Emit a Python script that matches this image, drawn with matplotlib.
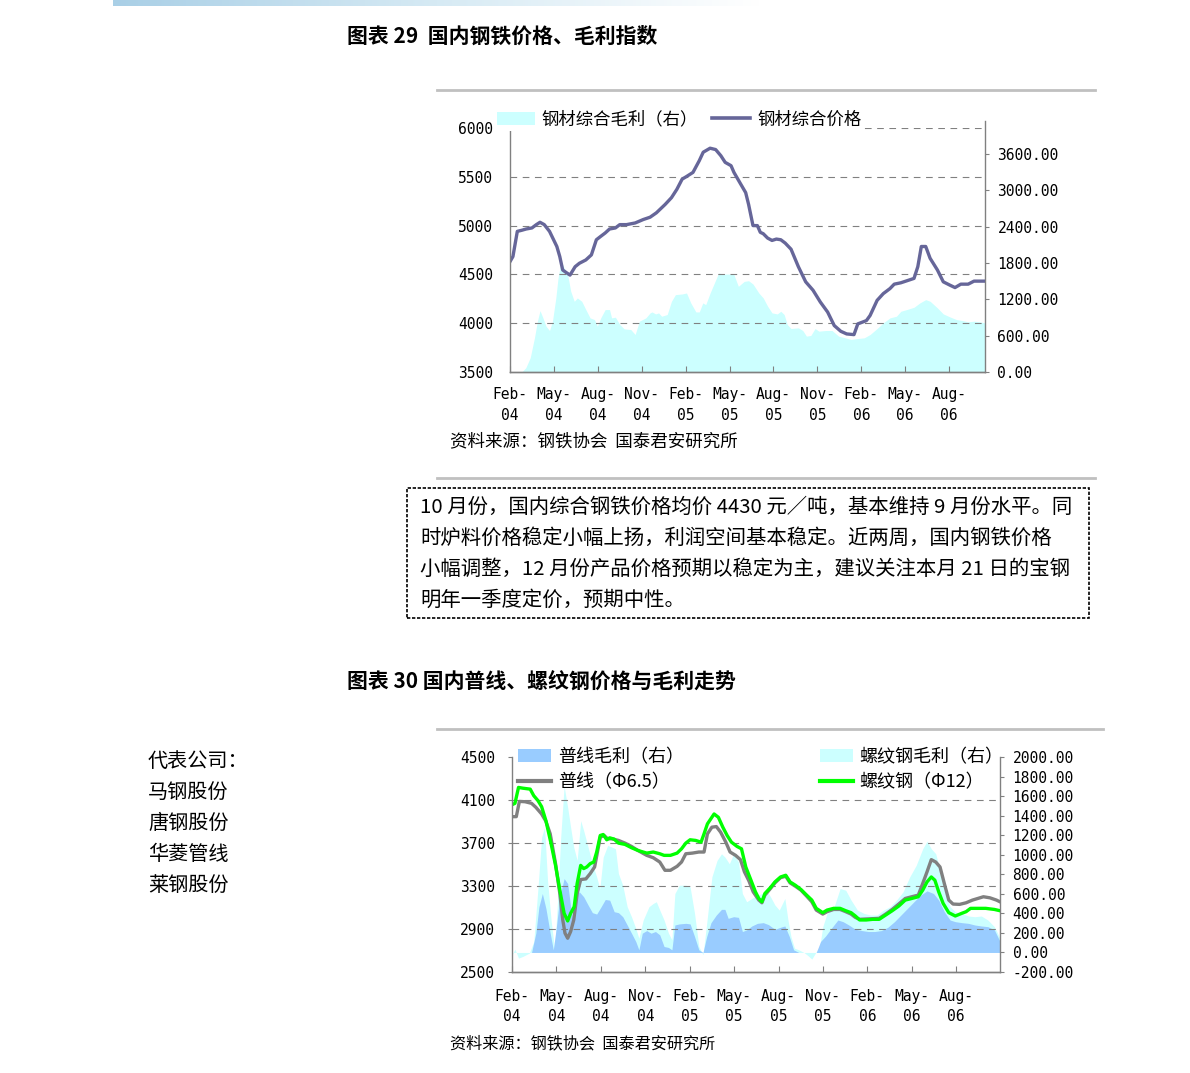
import matplotlib
matplotlib.use("Agg")
import matplotlib.pyplot as plt
from matplotlib.patches import Patch, Rectangle
from matplotlib.lines import Line2D
from matplotlib.ticker import FormatStrFormatter
import numpy as np

plt.rcParams['font.family'] = ['Noto Sans CJK SC', 'DejaVu Sans']
plt.rcParams['axes.unicode_minus'] = False

# ---- data: x = months since Feb-04 ----
month_ticks = [0, 3, 6, 9, 12, 15, 18, 21, 24, 27, 30]
month_labels = ['Feb-\n04', 'May-\n04', 'Aug-\n04', 'Nov-\n04', 'Feb-\n05', 'May-\n05',
                'Aug-\n05', 'Nov-\n05', 'Feb-\n06', 'May-\n06', 'Aug-\n06']

# chart 29: composite steel price (left) and composite gross margin (right)
price_x = [0, 0.2, 0.5, 0.8, 1.1, 1.5, 1.8, 2.05, 2.34, 2.7, 3.2, 3.4, 3.6, 3.86, 4.1, 4.45,
           4.74, 5.18, 5.56, 5.9, 6.2, 6.5, 6.8, 7.2, 7.5, 7.96, 8.55, 9.1, 9.57, 10.0, 10.6,
           11.03, 11.4, 11.76, 12.06, 12.5, 12.93, 13.2, 13.67, 14.05, 14.4, 14.7, 15.1, 15.3,
           15.7, 16.1, 16.3, 16.6, 16.9, 17.1, 17.3, 17.6, 17.9, 18.2, 18.5, 18.8, 19.2, 19.7,
           20.2, 20.7, 21.2, 21.7, 22.15, 22.6, 23.0, 23.5, 23.76, 24.06, 24.35, 24.6, 25.08,
           25.5, 25.96, 26.25, 26.7, 27.1, 27.6, 27.86, 28.1, 28.4, 28.7, 29.2, 29.6, 30.05,
           30.4, 30.8, 31.3, 31.7, 32.45]
price_y = [4631, 4683, 4941, 4952, 4965, 4976, 5010, 5034, 5010, 4941, 4786, 4683, 4545, 4517,
           4493, 4579, 4614, 4648, 4700, 4855, 4890, 4924, 4965, 4976, 5010, 5010, 5027, 5062,
           5086, 5131, 5217, 5286, 5372, 5476, 5503, 5545, 5665, 5752, 5793, 5779, 5717, 5648,
           5614, 5545, 5441, 5338, 5217, 5000, 5000, 4931, 4917, 4872, 4848, 4862, 4855, 4821,
           4758, 4579, 4424, 4338, 4217, 4114, 3976, 3917, 3890, 3883, 3993, 4010, 4027, 4079,
           4234, 4303, 4355, 4400, 4414, 4434, 4459, 4579, 4786, 4786, 4665, 4545, 4424, 4390,
           4365, 4400, 4400, 4431, 4431]

margin_x = [0, 0.8, 1.08, 1.38, 1.67, 1.87, 2.05, 2.25, 2.46, 2.7, 2.9, 3.13, 3.28, 3.5, 3.7,
            3.92, 4.15, 4.39, 4.6, 4.9, 5.18, 5.47, 5.77, 5.97, 6.2, 6.5, 6.8, 6.94, 7.2, 7.5,
            7.8, 8.25, 8.55, 8.84, 9.28, 9.57, 9.7, 9.95, 10.15, 10.36, 10.74, 11.03, 11.3,
            11.76, 12.06, 12.35, 12.7, 12.93, 13.17, 13.37, 13.67, 13.96, 14.25, 14.7, 15.28,
            15.6, 16.0, 16.3, 16.6, 17.0, 17.3, 17.6, 17.9, 18.26, 18.5, 18.73, 18.94, 19.2,
            19.7, 20.0, 20.25, 20.55, 20.84, 21.1, 21.57, 22.0, 22.45, 22.9, 23.3, 23.76, 24.2,
            24.6, 25.08, 25.5, 25.96, 26.4, 26.7, 27.1, 27.6, 28.0, 28.4, 28.7, 29.2, 29.6,
            30.05, 30.5, 30.9, 31.3, 31.7, 32.1, 32.45]
margin_y = [0, 0, 71, 236, 565, 840, 1015, 895, 757, 686, 840, 1224, 1553, 1827, 1718, 1635,
            1334, 1169, 1224, 1169, 1032, 895, 867, 757, 895, 1032, 1032, 895, 906, 785, 713,
            702, 620, 840, 895, 977, 993, 960, 977, 922, 950, 1169, 1279, 1290, 1306, 1142, 993,
            993, 1142, 1114, 1306, 1471, 1635, 1619, 1619, 1416, 1498, 1509, 1454, 1306, 1224,
            1087, 977, 960, 1004, 950, 785, 719, 730, 686, 593, 604, 719, 675, 686, 686, 593,
            565, 538, 554, 565, 620, 719, 812, 895, 922, 1004, 1032, 1070, 1142, 1196, 1169,
            1059, 960, 911, 867, 851, 829, 840, 829, 812]

# chart 30: wire rod / rebar prices (left) and gross margins (right)
rebar_x = [0, 0.2, 0.44, 0.73, 1.23, 1.47, 1.76, 2.0, 2.29, 2.64, 2.94, 3.23, 3.52, 3.76, 3.96,
           4.2, 4.4, 4.64, 4.84, 5.05, 5.28, 5.52, 5.72, 5.96, 6.16, 6.4, 6.6, 6.9, 7.19, 7.63,
           8.07, 8.5, 9.1, 9.54, 9.98, 10.27, 10.7, 11.15, 11.45, 11.74, 12.03, 12.4, 12.77,
           12.97, 13.2, 13.65, 13.94, 14.24, 14.53, 14.82, 15.2, 15.5, 15.79, 16.14, 16.44,
           16.67, 16.88, 17.08, 17.46, 17.76, 18.14, 18.49, 18.78, 19.14, 19.52, 19.9, 20.25,
           20.55, 20.99, 21.28, 21.72, 22.16, 22.54, 22.9, 23.19, 23.48, 23.92, 24.36, 24.8,
           25.24, 25.68, 26.12, 26.56, 27.0, 27.44, 27.74, 28.03, 28.32, 28.56, 28.82, 29.12,
           29.5, 29.94, 30.38, 30.67, 30.97, 31.4, 32.0, 32.58, 32.96]
rebar_y = [4056, 4069, 4217, 4210, 4201, 4140, 4093, 4038, 3908, 3693, 3492, 3261, 3046, 2975,
           3046, 3107, 3323, 3492, 3462, 3477, 3508, 3523, 3616, 3770, 3779, 3730, 3748, 3736,
           3699, 3687, 3656, 3631, 3606, 3616, 3600, 3585, 3585, 3606, 3646, 3699, 3730, 3724,
           3708, 3785, 3878, 3970, 3939, 3847, 3770, 3708, 3668, 3646, 3477, 3354, 3246, 3184,
           3153, 3230, 3286, 3338, 3384, 3400, 3338, 3307, 3267, 3215, 3169, 3092, 3052, 3076,
           3092, 3092, 3070, 3052, 3021, 2984, 2984, 2990, 2990, 3030, 3070, 3113, 3169, 3184,
           3200, 3261, 3338, 3384, 3354, 3246, 3138, 3052, 3021, 3046, 3061, 3092, 3092, 3092,
           3082, 3070]

wire_x = [0, 0.29, 0.5, 0.88, 1.32, 1.61, 2.0, 2.29, 2.58, 2.94, 3.23, 3.43, 3.58, 3.76, 3.96,
          4.17, 4.4, 4.64, 4.99, 5.28, 5.58, 5.96, 6.22, 6.46, 6.75, 7.19, 7.63, 8.07, 8.5, 9.1,
          9.54, 9.98, 10.33, 10.7, 11.15, 11.45, 11.74, 12.18, 12.62, 12.97, 13.2, 13.5, 13.8,
          14.09, 14.44, 14.73, 15.1, 15.43, 15.7, 16.0, 16.29, 16.67, 16.88, 17.08, 17.46,
          17.76, 18.14, 18.49, 18.78, 19.14, 19.52, 19.9, 20.25, 20.55, 20.99, 21.28, 21.72,
          22.16, 22.54, 22.9, 23.19, 23.48, 23.92, 24.36, 24.8, 25.24, 25.68, 26.12, 26.56,
          27.0, 27.44, 27.74, 28.03, 28.32, 28.62, 28.91, 29.2, 29.5, 29.79, 30.23, 30.67,
          31.1, 31.46, 31.84, 32.28, 32.72, 32.96]
wire_y = [3945, 3945, 4087, 4084, 4069, 4032, 3970, 3902, 3785, 3508, 3230, 2984, 2861, 2814,
          2876, 2984, 3230, 3360, 3366, 3415, 3477, 3754, 3770, 3739, 3739, 3724, 3699, 3668,
          3631, 3585, 3563, 3523, 3446, 3446, 3483, 3523, 3600, 3606, 3616, 3616, 3785, 3847,
          3853, 3801, 3708, 3616, 3585, 3545, 3431, 3348, 3246, 3169, 3144, 3215, 3277, 3329,
          3378, 3391, 3329, 3298, 3261, 3206, 3153, 3076, 3039, 3061, 3082, 3082, 3061, 3039,
          3008, 2990, 2993, 2996, 2999, 3039, 3082, 3132, 3184, 3200, 3215, 3323, 3431, 3545,
          3523, 3477, 3323, 3169, 3132, 3129, 3144, 3169, 3184, 3200, 3190, 3169, 3153]

wire_m_x = [0, 1.32, 1.61, 1.82, 2.05, 2.29, 2.58, 2.79, 3.0, 3.23, 3.52, 3.76, 3.96, 4.11,
            4.34, 4.55, 4.84, 5.14, 5.43, 5.72, 6.02, 6.3, 6.6, 6.9, 7.19, 7.48, 7.78, 8.07,
            8.36, 8.57, 8.8, 9.1, 9.39, 9.69, 9.98, 10.27, 10.57, 10.8, 11.0, 11.3, 11.74,
            12.03, 12.33, 12.62, 12.9, 13.15, 13.44, 13.8, 14.15, 14.38, 14.6, 14.97, 15.3,
            15.56, 15.85, 16.2, 16.58, 16.97, 17.32, 17.76, 18.14, 18.43, 18.73, 19.02, 19.37,
            20.55, 20.84, 21.19, 21.57, 22.01, 22.36, 22.75, 23.19, 23.63, 24.07, 24.5, 24.95,
            25.39, 25.83, 26.27, 26.71, 27.15, 27.59, 28.03, 28.47, 28.82, 29.2, 29.59, 29.94,
            30.38, 30.82, 31.26, 31.7, 32.14, 32.58, 32.96]
wire_m_y = [0, 0, 197, 468, 603, 451, 197, 27, 264, 570, 756, 705, 468, 332, 603, 620, 570, 485,
            407, 393, 468, 542, 535, 417, 407, 366, 281, 197, 112, 27, 197, 224, 197, 214, 180,
            61, 51, 27, 281, 292, 298, 292, 163, 27, 0, 163, 305, 383, 441, 441, 349, 366, 359,
            214, 231, 271, 298, 305, 285, 237, 258, 271, 163, 27, 0, 0, 112, 170, 247, 332, 315,
            281, 237, 224, 214, 214, 224, 258, 315, 383, 451, 519, 586, 630, 603, 536, 417, 332,
            315, 305, 298, 281, 271, 264, 231, 112]

rebar_m_x = [0, 0.2, 0.44, 0.73, 1.17, 1.47, 1.76, 2.0, 2.2, 2.4, 2.64, 2.88, 3.08, 3.29, 3.52,
             3.76, 3.96, 4.17, 4.4, 4.64, 4.84, 5.14, 5.43, 5.72, 5.93, 6.16, 6.46, 6.75, 6.99,
             7.19, 7.48, 7.78, 8.07, 8.36, 8.57, 8.86, 9.25, 9.54, 9.75, 9.98, 10.27, 10.57,
             10.8, 11.0, 11.3, 11.74, 12.03, 12.33, 12.62, 12.9, 13.2, 13.5, 13.85, 14.15,
             14.38, 14.68, 14.97, 15.3, 15.56, 15.85, 16.2, 16.58, 16.88, 17.17, 17.46, 17.76,
             18.05, 18.43, 18.64, 18.84, 19.08, 19.37, 19.72, 20.0, 20.25, 20.49, 20.78, 20.99,
             21.28, 21.72, 22.16, 22.54, 22.9, 23.33, 23.77, 24.21, 24.65, 25.1, 25.53, 25.97,
             26.41, 26.86, 27.3, 27.74, 28.03, 28.32, 28.62, 28.91, 29.2, 29.59, 29.94, 30.38,
             30.82, 31.26, 31.7, 32.14, 32.58, 32.96]
rebar_m_y = [-24, 34, -58, -41, -7, 112, 671, 1180, 1281, 739, 332, 27, 536, 1180, 1705, 1485,
             1281, 1078, 942, 1349, 1248, 1078, 908, 773, 654, 976, 1095, 1078, 1061, 807, 688,
             468, 366, 247, 146, 332, 468, 502, 519, 434, 332, 197, 129, 603, 688, 688, 671, 400,
             61, -24, 366, 773, 942, 1010, 976, 908, 1010, 925, 603, 519, 553, 586, 603, 637,
             570, 485, 434, 553, 332, 163, 44, 27, 0, -34, -68, -7, 61, 264, 400, 451, 654, 637,
             536, 434, 400, 383, 383, 434, 468, 536, 620, 773, 892, 1061, 1139, 1061, 1010, 841,
             637, 468, 417, 400, 373, 366, 373, 332, 264, 146]

# ---- layout helpers (pixel coords of the page, y from top) ----
W, H = 1190, 1073
fig = plt.figure(figsize=(W / 100, H / 100), dpi=100)


def px(x, y):
    return x / W, 1 - y / H


def rect(x0, y0, x1, y1):
    return [x0 / W, 1 - y1 / H, (x1 - x0) / W, (y1 - y0) / H]


MONO = 'DejaVu Sans Mono'
GRID = '#808080'

# top gradient band
band = fig.add_axes(rect(113, 0, 760, 6))
grad = np.linspace(0, 1, 256)[None, :]
band.imshow(grad, aspect='auto', cmap=matplotlib.colors.LinearSegmentedColormap.from_list(
    'band', ['#a9cfe6', '#d6eaf4', '#ffffff']), extent=(0, 1, 0, 1))
band.axis('off')


def hline(y, x0, x1):
    fig.add_artist(Line2D([x0 / W, x1 / W], [1 - y / H, 1 - y / H], color='#c0c0c0', lw=2))


def style_axes(axL, axR, xmax, ylimL, ylimR, ticksL, ticksR, gridL, left_tick_len, xpad):
    axL.set_zorder(axR.get_zorder() + 1)
    axL.patch.set_visible(False)
    for a in (axL, axR):
        a.spines['top'].set_visible(False)
        for s in a.spines.values():
            s.set_color(GRID)
            s.set_linewidth(1)
        a.set_xlim(0, xmax)
    axL.spines['right'].set_visible(False)
    axR.spines['left'].set_visible(False)
    axL.set_ylim(*ylimL)
    axR.set_ylim(*ylimR)
    axL.set_yticks(ticksL)
    axR.set_yticks(ticksR)
    axR.yaxis.set_major_formatter(FormatStrFormatter('%.2f'))
    axL.set_xticks(month_ticks)
    axL.set_xticklabels(month_labels, linespacing=1.45)
    axR.tick_params(axis='x', bottom=False, labelbottom=False)
    axL.tick_params(axis='x', direction='in', length=4, color=GRID, pad=xpad,
                    labelsize=10.5, labelfontfamily=MONO)
    axL.tick_params(axis='y', direction='out', length=left_tick_len, color=GRID,
                    pad=12 - left_tick_len, labelsize=10.5, labelfontfamily=MONO)
    axR.tick_params(axis='y', direction='out', length=3, color=GRID, pad=6,
                    labelsize=10.5, labelfontfamily=MONO)
    for v in gridL:
        axL.axhline(v, color=GRID, lw=0.8, ls=(0, (6, 5)), zorder=0.5)


# ================= chart 29 =================
fig.text(*px(347, 36), '图表 29  国内钢铁价格、毛利指数', fontsize=15, fontweight='bold',
         ha='left', va='center')
hline(90, 437, 1095)

a1L = fig.add_axes(rect(510, 128, 985, 372))
a1R = a1L.twinx()
a1R.fill_between(margin_x, 0, margin_y, color='#CCFFFF', lw=0)
a1L.plot(price_x, price_y, color='#666699', lw=2.4, solid_joinstyle='round')
style_axes(a1L, a1R, 32.45, (3500, 6000), (0, 4033),
           [3500, 4000, 4500, 5000, 5500, 6000], [0, 600, 1200, 1800, 2400, 3000, 3600],
           [4000, 4500, 5000, 5500, 6000], 0, 11)
a1R.spines['right'].set_bounds(0, 4150)

leg1 = a1L.legend([Patch(facecolor='#CCFFFF', edgecolor='none'),
                   Line2D([], [], color='#666699', lw=2.6)],
                  ['钢材综合毛利（右）', '钢材综合价格'], ncol=2, loc='lower left',
                  bbox_to_anchor=px(494, 131), bbox_transform=fig.transFigure,
                  frameon=True, facecolor='white', edgecolor='none', framealpha=1,
                  fancybox=False, borderpad=0.15, borderaxespad=0, handlelength=2.2,
                  handleheight=0.75, handletextpad=0.4, columnspacing=0.8, fontsize=12.5)
leg1.set_zorder(10)

fig.text(*px(450, 441), '资料来源：钢铁协会  国泰君安研究所', fontsize=12.6, ha='left',
         va='center')
hline(478, 437, 1095)

# text box
fig.add_artist(Rectangle(px(407, 618), (1089 - 407) / W, (618 - 488) / H, fill=False,
                         ec='black', lw=1.2, ls=(0, (2, 1))))
para = ['10 月份，国内综合钢铁价格均价 4430 元／吨，基本维持 9 月份水平。同',
        '时炉料价格稳定小幅上扬，利润空间基本稳定。近两周，国内钢铁价格',
        '小幅调整，12 月份产品价格预期以稳定为主，建议关注本月 21 日的宝钢',
        '明年一季度定价，预期中性。']
for line, yy in zip(para, [507, 538, 569, 600]):
    fig.text(*px(420, yy), line, fontsize=14.7, ha='left', va='center')

# ================= chart 30 =================
fig.text(*px(347, 681), '图表 30 国内普线、螺纹钢价格与毛利走势', fontsize=15,
         fontweight='bold', ha='left', va='center')
hline(729, 437, 1103)

for txt, yy in zip(['代表公司：', '马钢股份', '唐钢股份', '华菱管线', '莱钢股份'],
                   [761, 792, 823, 854, 885]):
    fig.text(*px(148, yy), txt, fontsize=14.5, ha='left', va='center')

a2L = fig.add_axes(rect(512, 757, 1000, 972))
a2R = a2L.twinx()
a2R.fill_between(rebar_m_x, 0, rebar_m_y, color='#CCFFFF', lw=0)
a2R.fill_between(wire_m_x, 0, wire_m_y, color='#99CCFF', lw=0)
a2L.plot(wire_x, wire_y, color='#808080', lw=2.4, solid_joinstyle='round')
a2L.plot(rebar_x, rebar_y, color='#00FF00', lw=2.4, solid_joinstyle='round')
style_axes(a2L, a2R, 32.96, (2500, 4500), (-200, 2000),
           [2500, 2900, 3300, 3700, 4100, 4500], list(range(-200, 2001, 200)),
           [2900, 3300, 3700, 4100], 3, 12)

leg_kw = dict(loc='upper left', bbox_transform=fig.transFigure, frameon=False,
              borderpad=0, borderaxespad=0, handlelength=1.85, handleheight=0.75,
              handletextpad=0.35, labelspacing=0.42, fontsize=13)
legA = a2L.legend([Patch(facecolor='#99CCFF', edgecolor='none'),
                   Line2D([], [], color='#808080', lw=3)],
                  ['普线毛利（右）', '普线（Φ6.5）'], bbox_to_anchor=px(518, 748), **leg_kw)
a2L.add_artist(legA)
legB = a2L.legend([Patch(facecolor='#CCFFFF', edgecolor='none'),
                   Line2D([], [], color='#00FF00', lw=3)],
                  ['螺纹钢毛利（右）', '螺纹钢（Φ12）'], bbox_to_anchor=px(820, 748), **leg_kw)

fig.text(*px(450, 1044), '资料来源：钢铁协会  国泰君安研究所', fontsize=11.6, ha='left',
         va='center')

fig.savefig('out.png', dpi=100)
